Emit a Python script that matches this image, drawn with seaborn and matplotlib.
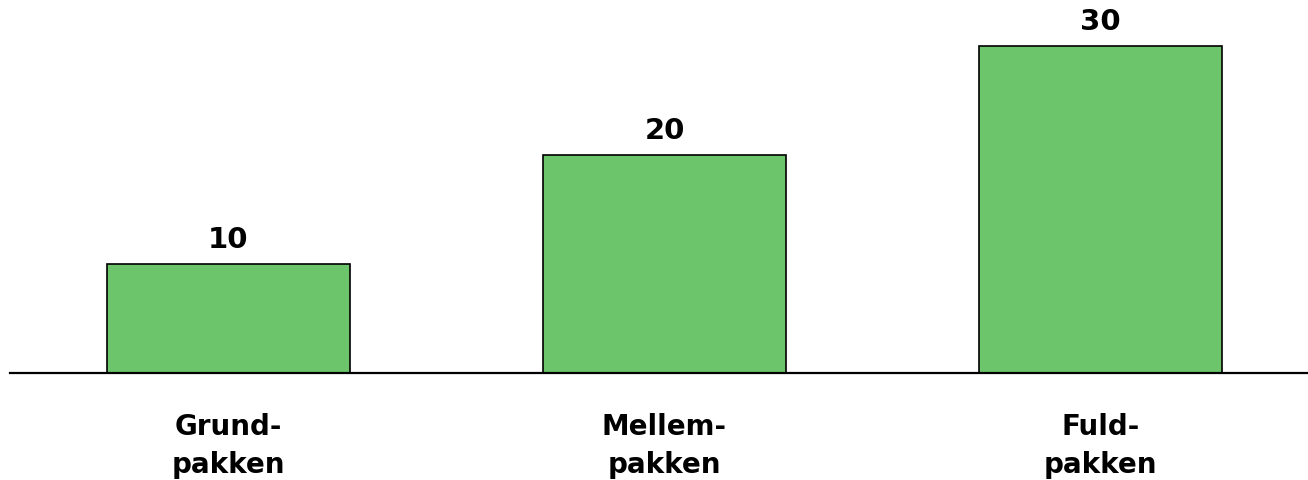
import pandas as pd
import matplotlib
matplotlib.use('Agg')
import matplotlib.pyplot as plt
import seaborn as sns

# chart data
packages = ['Grund-\npakken', 'Mellem-\npakken', 'Fuld-\npakken']
prices = [10, 20, 30]

df = pd.DataFrame({'Pakke': packages, 'Pris': prices})

sns.set_style('white')
plt.rcParams['font.family'] = ['DejaVu Sans']
plt.rcParams['text.color'] = 'black'

fig = plt.figure(figsize=(13.08, 4.81), dpi=100)
ax = fig.add_axes([10 / 1308, 107 / 481, 1 - 10 / 1308, 1 - 107 / 481])

sns.barplot(data=df, x='Pakke', y='Pris', color='#6cc56a', saturation=1,
            width=0.557, edgecolor='black', linewidth=1.2, ax=ax)

# value labels on top of the bars
for c in ax.containers:
    ax.bar_label(c, padding=8, fontsize=21, fontweight='bold', color='black')

ax.set_xlim(-0.5, 2.475)
ax.set_ylim(0, 34.3)
ax.set_xlabel('')
ax.set_ylabel('')
ax.set_yticks([])
ax.tick_params(axis='x', length=0, pad=28, labelsize=20, labelcolor='black')
for lbl in ax.get_xticklabels():
    lbl.set_fontweight('bold')
    lbl.set_linespacing(1.45)

for side in ['top', 'left', 'right']:
    ax.spines[side].set_visible(False)
ax.spines['bottom'].set_color('black')
ax.spines['bottom'].set_linewidth(1.6)

fig.savefig('out.png', dpi=100)
